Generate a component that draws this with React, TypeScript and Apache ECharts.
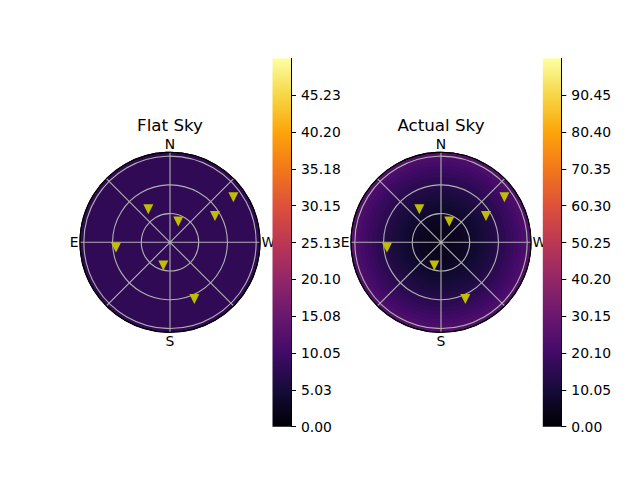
import React, { useEffect, useRef } from 'react';
import * as echarts from 'echarts';

const infernoStops = ['#000004', '#160b39', '#420a68', '#6a176e', '#932667', '#bc3754', '#dd513a', '#f37819', '#fca50a', '#f6d746', '#fcffa4'];

const dirAngles = [0, 90, 180, 270];
const dirLabels = ['N', 'E', 'S', 'W'];

const skyRMax = 94;

// star markers: zenith distance and azimuth (deg, from N through E)
const starRadius = [41.3, 23.3, 54.4, 81.2, 56.7, 25.3, 64.4];
const starAzimuth = [33.3, 338.2, 300.3, 305.4, 95.6, 164.0, 203.2];

// flat sky: a single uniform brightness
const flatBandEdges = [0, 94];
const flatSkyValues = [8.0];

// actual sky: radial brightness profile
const actualBandEdges = [0, 4, 8, 12, 16, 20, 24, 28, 32, 36, 40, 44, 48, 52, 56, 60, 64, 68, 72, 76, 80, 84, 88, 92, 94];
const actualSkyValues = [4.0, 4.1, 4.4, 4.8, 5.3, 5.9, 6.6, 7.3, 8.1, 8.9, 9.8, 10.7, 11.6, 12.6, 13.6, 14.7, 15.8, 17.0, 18.2, 19.5, 20.8, 22.2, 23.6, 25.0];

const flatMax = 50.25;
const actualMax = 100.5;
const flatTickValues = [0, 5.025, 10.05, 15.075, 20.1, 25.125, 30.15, 35.175, 40.2, 45.225];
const flatTickLabels = ['0.00', '5.03', '10.05', '15.08', '20.10', '25.13', '30.15', '35.18', '40.20', '45.23'];
const actualTickValues = [0, 10.05, 20.1, 30.15, 40.2, 50.25, 60.3, 70.35, 80.4, 90.45];
const actualTickLabels = ['0.00', '10.05', '20.10', '30.15', '40.20', '50.25', '60.30', '70.35', '80.40', '90.45'];

const FONT = 'DejaVu Sans';

function bands(edges: number[], values: number[]) {
  const out: number[][] = [];
  for (let i = 0; i < values.length; i++) out.push([edges[i], edges[i + 1], values[i]]);
  return out.reverse();
}

function lookup(values: number[], labels: string[]) {
  return (v: number) => {
    let best = -1;
    let bd = Infinity;
    values.forEach((t, i) => {
      const d = Math.abs(t - v);
      if (d < bd) { bd = d; best = i; }
    });
    return bd < 1e-6 ? labels[best] : '';
  };
}

const renderBand = (params: any, api: any) => {
  const cs = params.coordSys;
  const p1 = api.coord([api.value(1), 0]);
  const r = Math.hypot(p1[0] - cs.cx, p1[1] - cs.cy);
  return {
    type: 'circle',
    shape: { cx: cs.cx, cy: cs.cy, r },
    style: { fill: api.visual('color') },
  };
};

function polarAxes(i: number) {
  return {
    angle: {
      polarIndex: i,
      type: 'value',
      min: 0,
      max: 360,
      interval: 45,
      startAngle: 90,
      clockwise: false,
      z: 3,
      axisLine: { show: true, lineStyle: { color: '#000', width: 1.1 } },
      axisTick: { show: false },
      axisLabel: {
        margin: 1.5,
        color: '#000',
        fontSize: 13.9,
        fontFamily: FONT,
        formatter: (v: number) => {
          const k = dirAngles.indexOf(v);
          return k >= 0 ? dirLabels[k] : '';
        },
      },
      splitLine: { show: true, lineStyle: { color: '#b0b0b0', width: 1.1 } },
    },
    radius: {
      polarIndex: i,
      type: 'value',
      min: 0,
      max: skyRMax,
      interval: 30,
      z: 3,
      axisLine: { show: false },
      axisTick: { show: false },
      axisLabel: { show: false },
      splitLine: { show: true, lineStyle: { color: ['#b0b0b0', '#b0b0b0', '#b0b0b0', '#b0b0b0', '#000'], width: 1.1 } },
    },
  };
}

function colorbarY(i: number, max: number, ticks: number[], labels: string[]) {
  return {
    gridIndex: i,
    type: 'value',
    min: 0,
    max,
    position: 'right',
    z: 5,
    axisLine: { show: true, lineStyle: { color: '#000', width: 1 } },
    splitLine: { show: false },
    axisTick: { show: true, customValues: ticks, length: 5, lineStyle: { color: '#000', width: 1 } },
    axisLabel: {
      customValues: ticks,
      formatter: lookup(ticks, labels),
      margin: 10,
      color: '#000',
      fontSize: 13.9,
      fontFamily: FONT,
    },
  };
}

function gradient() {
  return new echarts.graphic.LinearGradient(0, 1, 0, 0,
    infernoStops.map((c, i) => ({ offset: i / (infernoStops.length - 1), color: c })));
}

export default function App() {
  const ref = useRef<HTMLDivElement>(null);
  useEffect(() => {
    if (!ref.current) return;
    const chart = echarts.init(ref.current, undefined, { renderer: 'svg' });
    const a0 = polarAxes(0);
    const a1 = polarAxes(1);
    const stars = starRadius.map((r, i) => [r, starAzimuth[i]]);
    chart.setOption({
      animation: false,
      backgroundColor: '#fff',
      textStyle: { fontFamily: FONT },
      polar: [
        { center: [170, 242.3], radius: 90 },
        { center: [441, 242.3], radius: 90 },
      ],
      angleAxis: [a0.angle, a1.angle],
      radiusAxis: [a0.radius, a1.radius],
      grid: [
        { left: 272.5, top: 58.3, width: 18.5, height: 368.4 },
        { left: 542.8, top: 58.3, width: 18.5, height: 368.4 },
      ],
      xAxis: [
        { gridIndex: 0, type: 'category', data: ['cb'], show: false },
        { gridIndex: 1, type: 'category', data: ['cb'], show: false },
      ],
      yAxis: [
        colorbarY(0, flatMax, flatTickValues, flatTickLabels),
        colorbarY(1, actualMax, actualTickValues, actualTickLabels),
      ],
      visualMap: [
        { type: 'continuous', show: false, seriesIndex: 0, dimension: 2, min: 0, max: flatMax, inRange: { color: infernoStops } },
        { type: 'continuous', show: false, seriesIndex: 1, dimension: 2, min: 0, max: actualMax, inRange: { color: infernoStops } },
      ],
      graphic: [
        { type: 'text', x: 170, y: 124.5, style: { text: 'Flat Sky', fill: '#000', fontSize: 16.7, fontFamily: FONT, align: 'center', verticalAlign: 'middle' } },
        { type: 'text', x: 441, y: 124.5, style: { text: 'Actual Sky', fill: '#000', fontSize: 16.7, fontFamily: FONT, align: 'center', verticalAlign: 'middle' } },
      ],
      series: [
        { type: 'custom', coordinateSystem: 'polar', polarIndex: 0, z: 1, silent: true, renderItem: renderBand, data: bands(flatBandEdges, flatSkyValues) },
        { type: 'custom', coordinateSystem: 'polar', polarIndex: 1, z: 1, silent: true, renderItem: renderBand, data: bands(actualBandEdges, actualSkyValues) },
        { type: 'scatter', coordinateSystem: 'polar', polarIndex: 0, z: 10, symbol: 'triangle', symbolRotate: 180, symbolSize: 10, itemStyle: { color: '#bfbf00', opacity: 1 }, data: stars },
        { type: 'scatter', coordinateSystem: 'polar', polarIndex: 1, z: 10, symbol: 'triangle', symbolRotate: 180, symbolSize: 10, itemStyle: { color: '#bfbf00', opacity: 1 }, data: stars },
        { type: 'bar', xAxisIndex: 0, yAxisIndex: 0, z: 4, barWidth: '100%', itemStyle: { color: gradient() }, data: [flatMax] },
        { type: 'bar', xAxisIndex: 1, yAxisIndex: 1, z: 4, barWidth: '100%', itemStyle: { color: gradient() }, data: [actualMax] },
      ],
    });
    return () => chart.dispose();
  }, []);
  return <div ref={ref} style={{ position: 'fixed', left: 0, top: 0, width: 640, height: 480, background: '#fff' }} />;
}
